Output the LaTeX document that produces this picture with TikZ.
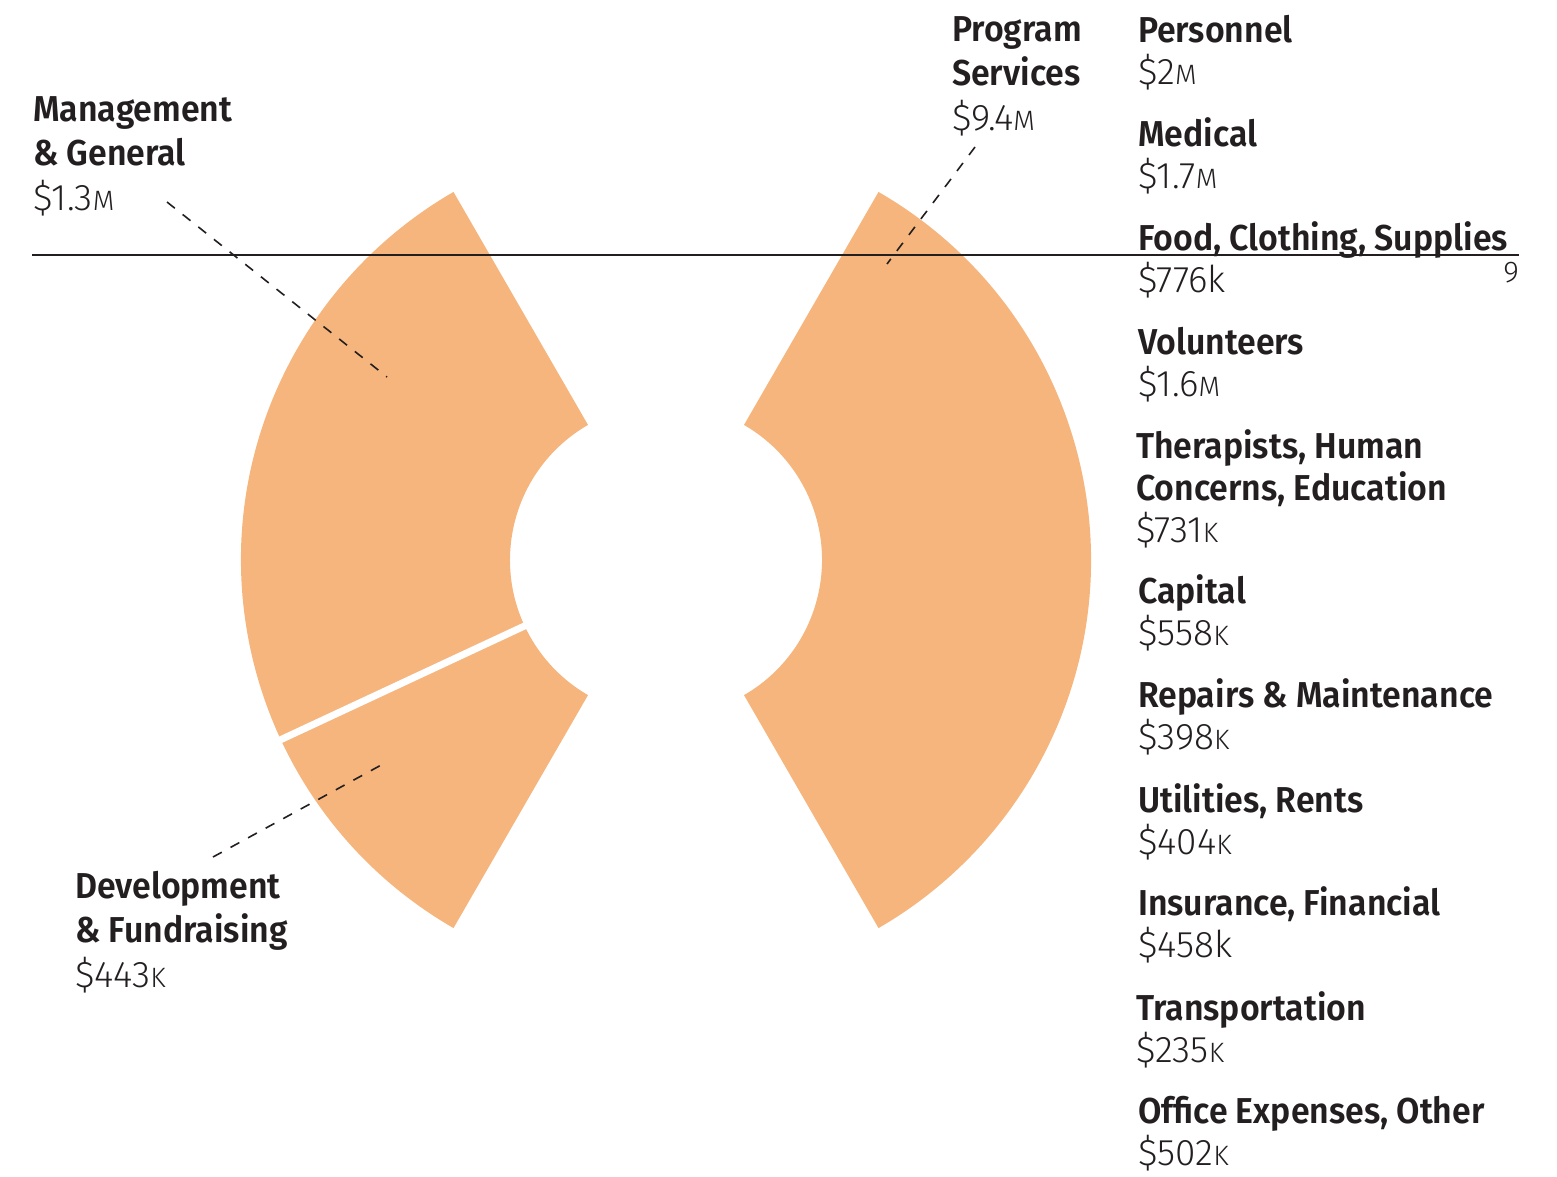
\documentclass[tikz,border=0pt]{standalone}
\usepackage{fontspec}
\setmainfont{Fira Sans}[BoldFont={Fira Sans SemiBold},FakeStretch=0.94]
\newfontfamily\lightfont{Fira Sans Light}
\definecolor{wedge}{RGB}{245,181,125}
\definecolor{ink}{RGB}{35,31,32}
\newcommand{\amt}[1]{{\mdseries\lightfont\fontsize{37}{37}\selectfont #1}}
\newcommand{\smc}[1]{{\fontsize{28}{28}\selectfont #1}}

\begin{document}
\begin{tikzpicture}[x=1pt,y=-1pt,
  label/.style={anchor=base west,inner sep=0pt,align=left,text=ink,font=\fontsize{36}{44.5}\selectfont\bfseries},
  item/.style={label,font=\fontsize{36}{42}\selectfont\bfseries},
  leader/.style={ink,line width=1.6pt,dash pattern=on 10pt off 10pt}]
\useasboundingbox (0,0) rectangle (1557,1176);

% the two halves of the ring
\begin{scope}[shift={(666,560)}]
\fill[wedge] (-60:425) arc[start angle=-60,end angle=60,radius=425] -- (60:156) arc[start angle=60,end angle=-60,radius=156] -- cycle;
\fill[wedge] (120:425) arc[start angle=120,end angle=240,radius=425] -- (240:156) arc[start angle=240,end angle=120,radius=156] -- cycle;
\draw[white,line width=7pt] (155:150) -- (155:432);
\end{scope}

% nodes sit on the baseline of their last line
\node[label] (mgmt) at (33,210) {Management\\\& General\\\amt{\$1.3\smc{M}}};
\node[label] (dev) at (75,987) {Development\\\& Fundraising\\\amt{\$443\smc{K}}};
\node[label] (prog) at (952,130) {Program\\Services\\\amt{\$9.4\smc{M}}};

\node[item] (personnel) at (1138,84) {Personnel\\\amt{\$2\smc{M}}};
\node[item] (medical) at (1138,188) {Medical\\\amt{\$1.7\smc{M}}};
\node[item] (food) at (1138,292) {Food, Clothing, Supplies\\\amt{\$776k}};
\node[item] (volunteers) at (1138,396) {Volunteers\\\amt{\$1.6\smc{M}}};
\node[item] (therapists) at (1136,542) {Therapists, Human\\Concerns, Education\\\amt{\$731\smc{K}}};
\node[item] (capital) at (1138,645) {Capital\\\amt{\$558\smc{K}}};
\node[item] (repairs) at (1138,749) {Repairs \& Maintenance\\\amt{\$398\smc{K}}};
\node[item] (utilities) at (1138,854) {Utilities, Rents\\\amt{\$404\smc{K}}};
\node[item] (insurance) at (1138,957) {Insurance, Financial\\\amt{\$458k}};
\node[item] (transport) at (1136,1062) {Transportation\\\amt{\$235\smc{K}}};
\node[item] (office) at (1138,1165) {Office Expenses, Other\\\amt{\$502\smc{K}}};

% rule and page number
\coordinate (rule-l) at (32,255);
\coordinate (rule-r) at (1519,255);
\draw[ink,line width=1.2pt] (rule-l) -- (rule-r);
\node[anchor=base east,inner sep=0pt,text=ink,font=\fontsize{30}{30}\selectfont\lightfont] (pagenum) at (1519,282) {9};

% leaders
\coordinate (mgmt-tip) at (167,202);
\coordinate (mgmt-end) at (387,377);
\coordinate (dev-tip) at (213,857);
\coordinate (dev-end) at (383,764);
\coordinate (prog-tip) at (975,147);
\coordinate (prog-end) at (887,264);
\draw[leader] (mgmt-tip) -- (mgmt-end);
\draw[leader] (dev-tip) -- (dev-end);
\draw[leader] (prog-tip) -- (prog-end);
\end{tikzpicture}
\end{document}
